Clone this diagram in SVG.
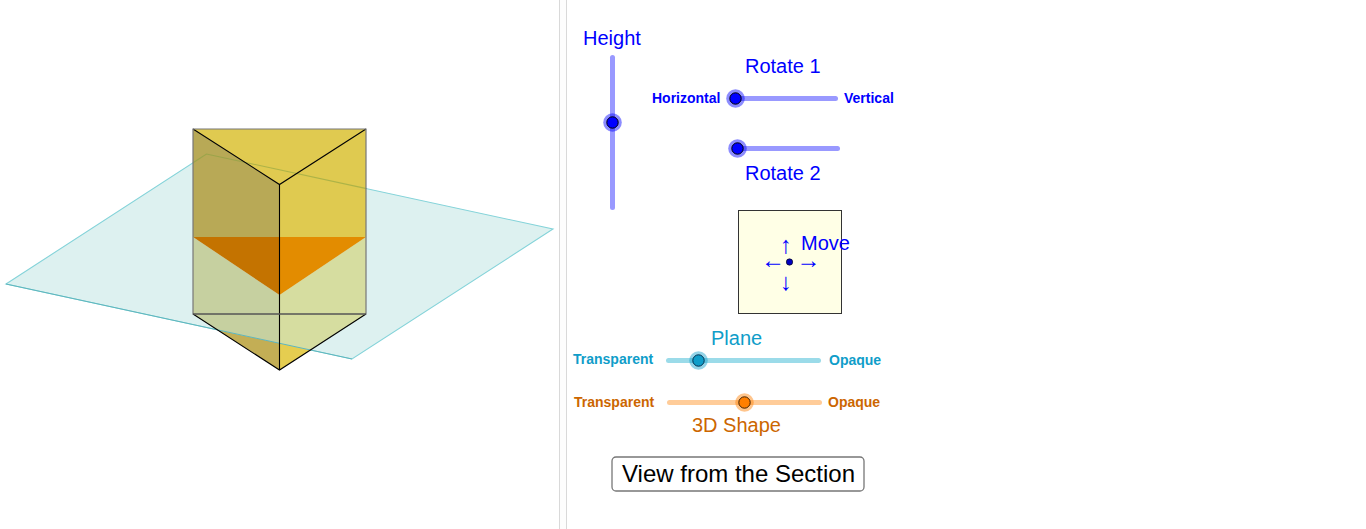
<svg xmlns="http://www.w3.org/2000/svg" width="1366" height="529" viewBox="0 0 1366 529">
<style>
text{font-family:"Liberation Sans",Arial,sans-serif}
.lab{font-size:20px}
.sm{font-size:14px;font-weight:bold}
.blue{fill:#0000ff}
.cyan{fill:#0f9dc9}
.org{fill:#cc6600}
.track{stroke-width:5;stroke-linecap:round;fill:none}
.edge{stroke:#000;stroke-width:1.1;fill:none}
.arr{font-size:24px;fill:#0000ff;text-anchor:middle}
.halo{stroke:none;fill-opacity:.45}
</style>
<rect width="1366" height="529" fill="#fff"/>
<g id="divider">
<rect x="559" y="0" width="8" height="529" fill="#fdfdfd"/>
<rect x="559" y="0" width="1" height="529" fill="#d9d9d9"/>
<rect x="566" y="0" width="1" height="529" fill="#d9d9d9"/>
</g>
<g id="scene">
<polygon id="plane" points="6,284 206.5,154 553,229 352,359" fill="#ddf1f0" stroke="#84d3d9" stroke-width="1.1"/>
<polygon points="193,314 279.5,370 279.5,343.3 217.5,329.9" fill="#c3ae55"/>
<polygon points="279.5,370 366,314 310.4,350 279.5,343.3" fill="#e5cd50"/>
<polygon points="193,314 193,237 279.5,295 279.5,343.3 217.5,329.9" fill="#c6d0a0"/>
<polygon points="279.5,295 366,237 366,314 310.4,350 279.5,343.3" fill="#d6dda0"/>
<polygon points="193,129 366,129 279.5,184.5" fill="#e0ca50"/>
<polygon points="193,129 279.5,184.5 279.5,237 193,237" fill="#b8a956"/>
<polygon points="366,129 279.5,184.5 279.5,237 366,237" fill="#dfca50"/>
<polygon points="193,237 279.5,237 279.5,295" fill="#c47300"/>
<polygon points="366,237 279.5,237 279.5,295" fill="#e38c00"/>
<polyline points="193,162.8 206.5,154 366.5,188.6" fill="none" stroke="#84a040" stroke-opacity=".55" stroke-width="1.1"/>
<polyline points="6,284 352,359" fill="none" stroke="#5fb6bd" stroke-width="1"/>
<path class="edge" d="M193,129L279.5,184.5L366,129M279.5,184.5V370M193,314L279.5,370L366,314"/>
<path d="M193,129H366V314H193Z" fill="none" stroke="#777" stroke-width="1.2"/>
<path d="M193,314H366" fill="none" stroke="#444" stroke-width="1"/>
</g>
<g id="height-slider">
<text class="lab blue" x="583" y="45">Height</text>
<line class="track" x1="612.5" y1="57.5" x2="612.5" y2="207.5" stroke="#9999ff"/>
<circle class="halo" cx="612.5" cy="122.5" r="9.3" fill="#0000ff"/>
<circle cx="612.5" cy="122.5" r="5.7" fill="#0000ff" stroke="#000" stroke-width="1"/>
</g>
<g id="rotate1-slider">
<text class="lab blue" x="745" y="73">Rotate 1</text>
<text class="sm blue" x="652" y="103">Horizontal</text>
<text class="sm blue" x="844" y="103">Vertical</text>
<line class="track" x1="735.5" y1="98.5" x2="835.5" y2="98.5" stroke="#9999ff"/>
<circle class="halo" cx="735.5" cy="98.5" r="9.3" fill="#0000ff"/>
<circle cx="735.5" cy="98.5" r="5.7" fill="#0000ff" stroke="#000" stroke-width="1"/>
</g>
<g id="rotate2-slider">
<text class="lab blue" x="745" y="180">Rotate 2</text>
<line class="track" x1="737.5" y1="148.5" x2="837.5" y2="148.5" stroke="#9999ff"/>
<circle class="halo" cx="737.5" cy="148.5" r="9.3" fill="#0000ff"/>
<circle cx="737.5" cy="148.5" r="5.7" fill="#0000ff" stroke="#000" stroke-width="1"/>
</g>
<g id="move-box">
<rect x="738.5" y="210.5" width="103" height="103" fill="#ffffe6" stroke="#333" stroke-width="1"/>
<text class="arr" x="786" y="253">↑</text>
<text class="arr" x="773" y="268">←</text>
<text class="arr" x="808.500" y="268">→</text>
<text class="arr" x="786" y="290">↓</text>
<circle cx="789.5" cy="262" r="3.2" fill="#0000c0" stroke="#000" stroke-width=".6"/>
<text class="lab blue" x="801" y="250">Move</text>
</g>
<g id="plane-slider">
<text class="lab cyan" x="711" y="345">Plane</text>
<text class="sm cyan" x="573" y="364">Transparent</text>
<text class="sm cyan" x="829" y="365">Opaque</text>
<line class="track" x1="668.5" y1="360.5" x2="818.5" y2="360.5" stroke="#9bdbe9"/>
<circle class="halo" cx="698.5" cy="360.5" r="9.3" fill="#0f9dc9"/>
<circle cx="698.5" cy="360.5" r="5.7" fill="#0f9dc9" stroke="#003050" stroke-width="1"/>
</g>
<g id="shape-slider">
<text class="lab org" x="692" y="432">3D Shape</text>
<text class="sm org" x="574" y="407">Transparent</text>
<text class="sm org" x="828" y="407">Opaque</text>
<line class="track" x1="669.5" y1="402.5" x2="819.5" y2="402.5" stroke="#ffcc99"/>
<circle class="halo" cx="744.5" cy="402.5" r="9.3" fill="#ff7f00"/>
<circle cx="744.5" cy="402.5" r="5.7" fill="#ff7f00" stroke="#402000" stroke-width="1"/>
</g>
<g id="view-button">
<rect x="612" y="457" width="252" height="34" rx="4" fill="#fff" stroke="#777" stroke-width="1.3"/>
<text x="622" y="482" font-size="24" fill="#000">View from the Section</text>
</g>
</svg>
